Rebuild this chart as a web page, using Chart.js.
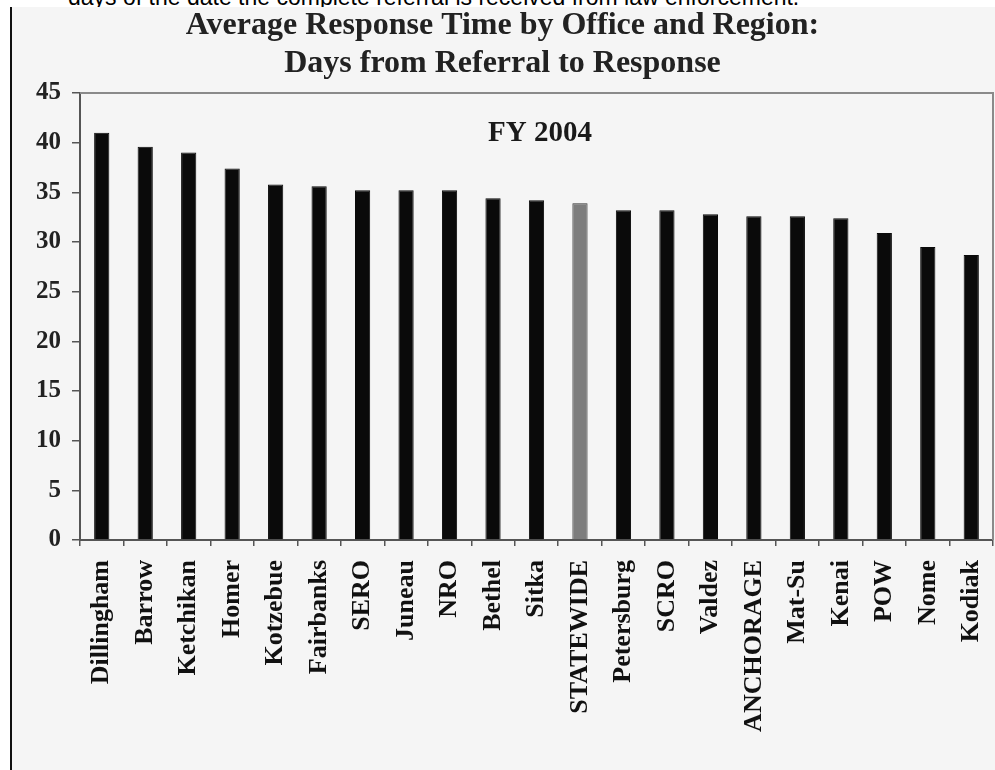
<!DOCTYPE html>
<html>
<head>
<meta charset="utf-8">
<script src="https://cdn.jsdelivr.net/npm/chart.js@4"></script>
<style>
  body { margin:0; background:#fff; width:995px; height:770px; overflow:hidden; position:relative; }
  #note { position:absolute; left:68px; top:-14px; font:23px/23px "Liberation Sans", Arial, sans-serif; color:#000; white-space:nowrap; }
  #edge { position:absolute; left:10px; top:7px; width:2px; height:763px; background:#111; }
  #c { position:absolute; left:12px; top:7px; background:#f5f5f5; }
</style>
</head>
<body>
<div id="note">days of the date the complete referral is received from law enforcement.</div>
<div id="edge"></div>
<canvas id="c" width="983" height="763"></canvas>
<script>
const offices = ['Dillingham','Barrow','Ketchikan','Homer','Kotzebue','Fairbanks','SERO','Juneau','NRO','Bethel','Sitka','STATEWIDE','Petersburg','SCRO','Valdez','ANCHORAGE','Mat-Su','Kenai','POW','Nome','Kodiak'];
const days = [41.0,39.6,39.0,37.4,35.8,35.6,35.2,35.2,35.2,34.4,34.2,33.9,33.2,33.2,32.8,32.6,32.6,32.4,30.9,29.5,28.7];
const yTicks = [0,5,10,15,20,25,30,35,40,45];
const titleLines = ['Average Response Time by Office and Region:','Days from Referral to Response'];
const subLabel = 'FY 2004';

const serif = '"Liberation Serif", "Times New Roman", serif';

const frame = {
  id:'frame',
  afterDraw(chart){
    const {ctx, chartArea:a} = chart;
    ctx.save();
    ctx.strokeStyle = '#8a8a8a';
    ctx.lineWidth = 2;
    ctx.beginPath();
    ctx.moveTo(a.left, a.top); ctx.lineTo(a.right, a.top); ctx.lineTo(a.right, a.bottom);
    ctx.stroke();
    ctx.fillStyle = '#1a1a1a';
    ctx.font = 'bold 29px ' + serif;
    ctx.textAlign = 'center';
    ctx.textBaseline = 'alphabetic';
    ctx.fillText(subLabel, 528, 134);
    ctx.restore();
  }
};

new Chart(document.getElementById('c').getContext('2d'), {
  type:'bar',
  data:{
    labels: offices,
    datasets:[{
      data: days,
      backgroundColor: offices.map(o => o === 'STATEWIDE' ? '#7d7d7d' : '#0a0a0a'),
      borderColor: offices.map(o => o === 'STATEWIDE' ? '#333' : '#0a0a0a'),
      borderWidth: 1,
      barPercentage: 0.35,
      categoryPercentage: 1
    }]
  },
  options:{
    responsive:false,
    animation:false,
    layout:{padding:{left:0, right:2, top:0, bottom:0}},
    plugins:{
      legend:{display:false},
      tooltip:{enabled:false},
      title:{
        display:true,
        text:titleLines,
        color:'#222',
        font:{family:serif, size:32, weight:'bold', lineHeight:38/32},
        padding:{top:0, bottom:10}
      }
    },
    scales:{
      x:{
        offset:true,
        grid:{display:true, drawOnChartArea:false, offset:true, tickLength:6, color:'#555', lineWidth:1.5},
        border:{display:true, color:'#555', width:2},
        ticks:{minRotation:90, maxRotation:90, autoSkip:false, padding:14, color:'#111',
          font:{family:serif, size:26, weight:'bold'}},
        afterFit(s){ s.height = 230; s.paddingLeft = 0; s.paddingRight = 0; }
      },
      y:{
        min:0, max:45,
        afterBuildTicks(s){ s.ticks = yTicks.map(v => ({value:v})); },
        grid:{display:true, drawOnChartArea:false, tickLength:8, color:'#555', lineWidth:1.5},
        border:{display:true, color:'#555', width:2},
        ticks:{padding:11, color:'#222', font:{family:serif, size:25, weight:'bold'}},
        afterFit(s){ s.width = 68; s.paddingTop = 0; s.paddingBottom = 0; }
      }
    }
  },
  plugins:[frame]
});
</script>
</body>
</html>
